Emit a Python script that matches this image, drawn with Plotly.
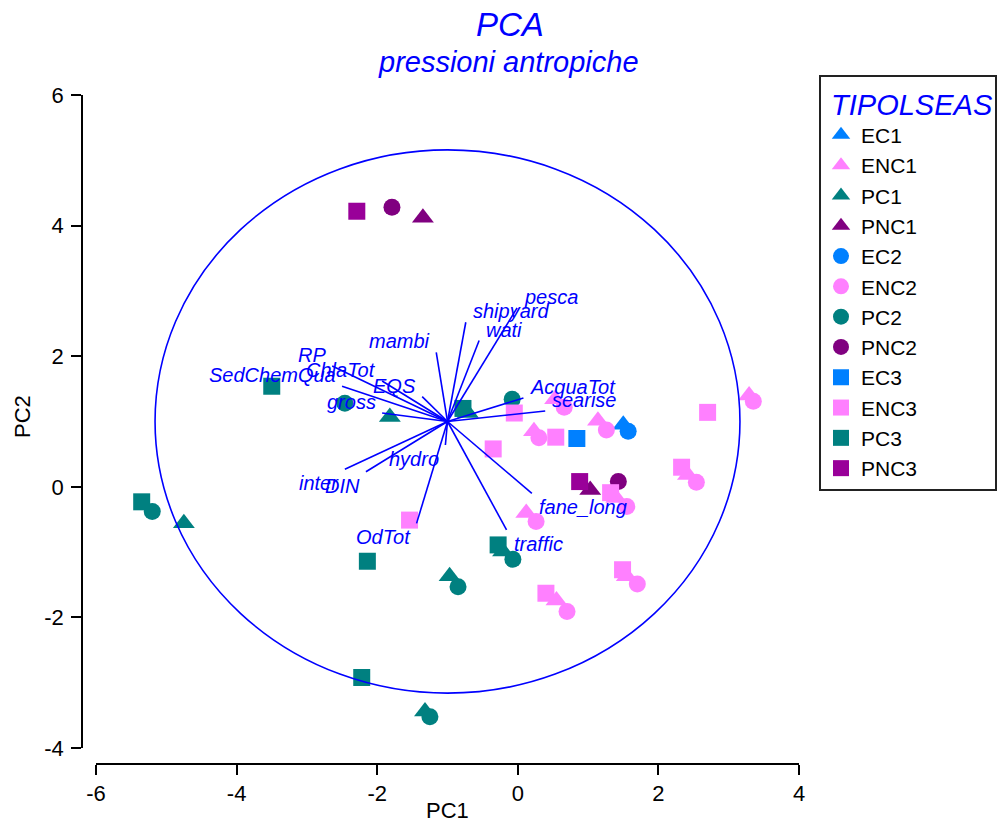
import plotly.graph_objects as go

# ---- sample scores on PC1 / PC2, grouped by TIPOLSEAS ----
EC1_pc1 = [1.50]
EC1_pc2 = [0.95]
ENC1_pc1 = [0.53, 0.23, 1.14, 3.29, 2.42, 1.40, 0.12, 1.55, 0.55]
ENC1_pc2 = [1.34, 0.85, 1.01, 1.40, 0.18, -0.17, -0.40, -1.37, -1.74]
PC1_pc1 = [-4.75, -0.97, -0.21, -1.32, -1.82, -0.71]
PC1_pc2 = [-0.56, -1.37, -0.99, -3.44, 1.07, 1.13]
PNC1_pc1 = [-1.35, 1.03]
PNC1_pc2 = [4.12, -0.05]

EC2_pc1 = [1.57]
EC2_pc2 = [0.85]
ENC2_pc1 = [0.66, 0.30, 1.26, 3.35, 2.54, 1.55, 0.26, 1.70, 0.70]
ENC2_pc2 = [1.22, 0.75, 0.87, 1.31, 0.07, -0.30, -0.53, -1.49, -1.91]
PC2_pc1 = [-5.20, -0.85, -0.07, -1.25, -2.46, -0.08]
PC2_pc2 = [-0.38, -1.53, -1.11, -3.52, 1.28, 1.34]
PNC2_pc1 = [-1.79, 1.43]
PNC2_pc2 = [4.28, 0.08]

EC3_pc1 = [0.84]
EC3_pc2 = [0.74]
ENC3_pc1 = [-0.05, -0.35, 0.54, 2.70, 2.33, 1.32, 1.49, 0.40, -1.54]
ENC3_pc2 = [1.13, 0.58, 0.76, 1.14, 0.30, -0.09, -1.27, -1.63, -0.51]
PC3_pc1 = [-5.35, -2.14, -0.28, -2.22, -3.50, -0.78]
PC3_pc2 = [-0.23, -1.14, -0.89, -2.92, 1.54, 1.20]
PNC3_pc1 = [-2.29, 0.88]
PNC3_pc2 = [4.22, 0.08]

# ---- variable vectors (drawn from the circle centre) ----
vec_names = ["pesca", "shipyard", "wati", "mambi", "RP", "ChlaTot", "SedChemQua",
             "EQS", "gross", "AcquaTot", "searise", "hydro", "inter", "DIN",
             "OdTot", "traffic", "fane_long"]
vec_pc1 = [0.99, 0.26, 0.45, -0.16, -1.64, -0.93, -1.50,
           -0.36, -0.93, 1.08, 1.39, -0.03, -1.46, -1.16,
           -0.44, 0.84, 1.20]
vec_pc2 = [1.74, 1.52, 1.24, 1.06, 0.85, 0.62, 0.54,
           0.38, 0.13, 0.36, 0.16, -0.36, -0.73, -0.77,
           -1.56, -1.66, -1.10]
circle_center = (-1.0, 1.0)
circle_radius = 4.16

x_ticks = [-6, -4, -2, 0, 2, 4]
y_ticks = [-4, -2, 0, 2, 4, 6]

BLUE = "#0000FF"
FONT = "Liberation Sans, Arial, sans-serif"

series = [
    ("EC1", EC1_pc1, EC1_pc2, "triangle-up", "#0080FF"),
    ("ENC1", ENC1_pc1, ENC1_pc2, "triangle-up", "#FF80FF"),
    ("PC1", PC1_pc1, PC1_pc2, "triangle-up", "#008080"),
    ("PNC1", PNC1_pc1, PNC1_pc2, "triangle-up", "#800080"),
    ("EC2", EC2_pc1, EC2_pc2, "circle", "#0080FF"),
    ("ENC2", ENC2_pc1, ENC2_pc2, "circle", "#FF80FF"),
    ("PC2", PC2_pc1, PC2_pc2, "circle", "#008080"),
    ("PNC2", PNC2_pc1, PNC2_pc2, "circle", "#800080"),
    ("EC3", EC3_pc1, EC3_pc2, "square", "#0080FF"),
    ("ENC3", ENC3_pc1, ENC3_pc2, "square", "#FF80FF"),
    ("PC3", PC3_pc1, PC3_pc2, "square", "#008080"),
    ("PNC3", PNC3_pc1, PNC3_pc2, "square", "#990099"),
]

fig = go.Figure()
for name, xs, ys, sym, col in series:
    size = 19 if sym == "triangle-up" else 17
    fig.add_trace(go.Scatter(
        x=xs, y=ys, mode="markers", name=name,
        marker=dict(symbol=sym, size=size, color=col, line=dict(width=0)),
        cliponaxis=False,
    ))

# vector lines
cx, cy = circle_center
vx, vy = [], []
for dx, dy in zip(vec_pc1, vec_pc2):
    vx += [cx, cx + dx, None]
    vy += [cy, cy + dy, None]
fig.add_trace(go.Scatter(x=vx, y=vy, mode="lines", showlegend=False,
                         line=dict(color=BLUE, width=1.6), hoverinfo="skip",
                         cliponaxis=False))

annotations = []
for name, dx, dy in zip(vec_names, vec_pc1, vec_pc2):
    annotations.append(dict(
        x=cx + dx, y=cy + dy, xref="x", yref="y", text=name, showarrow=False,
        xanchor="left" if dx > 0 else "right", yanchor="middle",
        xshift=5 if dx > 0 else -4, yshift=11 if dy > 0 else -14,
        font=dict(family=FONT, size=20, color=BLUE, style="italic"),
    ))

# layout geometry (pixels -> paper fractions)
W, H = 998, 824
ML, MR, MT, MB = 60, 150, 60, 40
PW, PH = W - ML - MR, H - MT - MB


def px_x(p):
    return (p - ML) / PW


def px_y(p):
    return (H - MB - p) / PH


annotations += [
    dict(text="PCA", x=px_x(510), y=px_y(24), xref="paper", yref="paper",
         showarrow=False, xanchor="center", yanchor="middle",
         font=dict(family=FONT, size=33, color=BLUE, style="italic")),
    dict(text="pressioni antropiche", x=px_x(508), y=px_y(62), xref="paper",
         yref="paper", showarrow=False, xanchor="center", yanchor="middle",
         font=dict(family=FONT, size=29, color=BLUE, style="italic")),
    dict(text="PC1", x=px_x(447), y=px_y(810), xref="paper", yref="paper",
         showarrow=False, xanchor="center", yanchor="middle",
         font=dict(family=FONT, size=22, color="black")),
    dict(text="PC2", x=px_x(22), y=px_y(417), xref="paper", yref="paper",
         showarrow=False, xanchor="center", yanchor="middle", textangle=-90,
         font=dict(family=FONT, size=22, color="black")),
]

x_dom = [px_x(96), px_x(799)]
y_dom = [px_y(748), px_y(95)]
x_pos = px_y(764)
y_pos = px_x(82)

# tick labels use a plain hyphen for negatives
x_ticktext = [str(v) for v in x_ticks]
y_ticktext = [str(v) for v in y_ticks]

axis_common = dict(showgrid=False, zeroline=False, linecolor="black",
                   linewidth=1.5, tickcolor="black", tickwidth=1.5,
                   ticklen=10, tickfont=dict(family=FONT, size=22, color="black"))

fig.update_layout(
    width=W, height=H,
    margin=dict(l=ML, r=MR, t=MT, b=MB, autoexpand=False),
    paper_bgcolor="white", plot_bgcolor="white",
    font=dict(family=FONT, color="black"),
    xaxis=dict(domain=x_dom, range=[-6, 4], anchor="free", position=x_pos,
               showline=True, ticks="outside", tickvals=x_ticks,
               ticktext=x_ticktext, **axis_common),
    yaxis=dict(domain=y_dom, range=[-4, 6], anchor="free", position=y_pos,
               showline=True, ticks="outside", tickvals=y_ticks,
               ticktext=y_ticktext, ticklabelstandoff=3, **axis_common),
    xaxis2=dict(overlaying="x", range=[-6, 4], anchor="free", position=x_pos,
                showline=False, ticks="inside", tickvals=x_ticks,
                showticklabels=False, **axis_common),
    yaxis2=dict(overlaying="y", range=[-4, 6], anchor="free", position=y_pos,
                showline=False, ticks="inside", tickvals=y_ticks,
                showticklabels=False, **axis_common),
    shapes=[dict(type="circle", xref="x", yref="y",
                 x0=cx - circle_radius, x1=cx + circle_radius,
                 y0=cy - circle_radius, y1=cy + circle_radius,
                 line=dict(color=BLUE, width=1.6), layer="above")],
    annotations=annotations,
    legend=dict(x=px_x(819), y=px_y(75), xanchor="left", yanchor="top",
                bordercolor="#222222", borderwidth=2, bgcolor="white",
                font=dict(family=FONT, size=21, color="black"),
                title=dict(text=" TIPOLSEAS",
                           font=dict(family=FONT, size=29, color=BLUE,
                                     style="italic")),
                tracegroupgap=0),
    showlegend=True,
)

fig.write_html("out.html")
